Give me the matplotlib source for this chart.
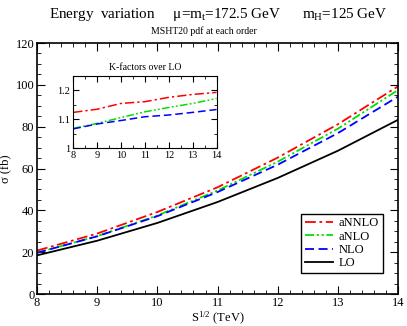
import numpy as np
import matplotlib
matplotlib.use("Agg")
import matplotlib.pyplot as plt
from matplotlib.ticker import MultipleLocator

plt.rcParams['font.family'] = ['Liberation Serif', 'DejaVu Serif']
plt.rcParams['mathtext.fontset'] = 'custom'
plt.rcParams['mathtext.rm'] = 'Liberation Serif'
plt.rcParams['mathtext.it'] = 'Liberation Serif'

# collider energy (TeV)
energy = [8, 9, 10, 11, 12, 13, 14]
# LO cross section (fb)
lo = [18.5, 25.5, 34.0, 44.0, 55.5, 68.5, 83.3]
# K-factors over LO
k_nlo = [1.066, 1.083, 1.095, 1.108, 1.114, 1.123, 1.133]
k_anlo = [1.068, 1.085, 1.105, 1.125, 1.140, 1.154, 1.171]
k_annlo = [1.123, 1.134, 1.154, 1.160, 1.175, 1.185, 1.192]

lo = np.array(lo)
nlo = lo * np.array(k_nlo)
anlo = lo * np.array(k_anlo)
annlo = lo * np.array(k_annlo)

styles = {
    "aNNLO": dict(color="red", ls=(0, (6, 2, 1.5, 2))),
    "aNLO": dict(color="#00e000", ls=(0, (5, 1.5, 1.2, 1.5, 1.2, 1.5))),
    "NLO": dict(color="blue", ls=(0, (5, 2.5))),
    "LO": dict(color="black", ls="-"),
}

fig = plt.figure(figsize=(4.07, 3.26), dpi=100)
ax = fig.add_axes([0.091, 0.098, 0.887, 0.770])

for name, ys in [("aNNLO", annlo), ("aNLO", anlo), ("NLO", nlo), ("LO", lo)]:
    ax.plot(energy, ys, lw=1.3, label=name, **styles[name])

ax.set_xlim(8, 14)
ax.set_ylim(0, 120)
ax.xaxis.set_major_locator(MultipleLocator(1))
ax.xaxis.set_minor_locator(MultipleLocator(0.2))
ax.yaxis.set_major_locator(MultipleLocator(20))
ax.yaxis.set_minor_locator(MultipleLocator(5))
ax.tick_params(which="both", direction="in", top=True, right=True, labelsize=9)
ax.tick_params(which="major", length=6, pad=2)
ax.tick_params(which="minor", length=3)
for s in ax.spines.values():
    s.set_linewidth(1.2)
ax.set_xlabel(r"S$^{1/2}$ (TeV)", fontsize=9, labelpad=1)
ax.set_ylabel(r"σ (fb)", fontsize=9, labelpad=3)

leg = ax.legend(loc="lower right", bbox_to_anchor=(0.958, 0.084), fontsize=9,
                fancybox=False, edgecolor="black", framealpha=1,
                handlelength=2.2, labelspacing=0.1, borderpad=0.3,
                handletextpad=0.5, borderaxespad=0)
leg.get_frame().set_linewidth(1.0)

fig.text(0.535, 0.955, r"Energy  variation     $\mu$=m$_{\rm t}$=172.5 GeV      m$_{\rm H}$=125 GeV",
         ha="center", va="center", fontsize=10.9)
fig.text(0.50, 0.905, "MSHT20 pdf at each order", ha="center", va="center", fontsize=7)

# inset with K-factors
ins = fig.add_axes([0.180, 0.546, 0.352, 0.222])
ins.plot(energy, k_annlo, lw=1.1, **styles["aNNLO"])
ins.plot(energy, k_anlo, lw=1.1, **styles["aNLO"])
ins.plot(energy, k_nlo, lw=1.1, **styles["NLO"])
ins.set_xlim(8, 14)
ins.set_ylim(1, 1.25)
ins.xaxis.set_major_locator(MultipleLocator(1))
ins.xaxis.set_minor_locator(MultipleLocator(0.5))
ins.yaxis.set_major_locator(MultipleLocator(0.1))
ins.yaxis.set_minor_locator(MultipleLocator(0.05))
ins.set_yticks([1, 1.1, 1.2])
ins.set_yticklabels(["1", "1.1", "1.2"])
ins.tick_params(which="both", direction="in", top=True, right=True, labelsize=7.5, pad=2)
ins.tick_params(which="major", length=4)
ins.tick_params(which="minor", length=2)
ins.set_title("K-factors over LO", fontsize=7, pad=4)

fig.savefig("out.png", dpi=100)
